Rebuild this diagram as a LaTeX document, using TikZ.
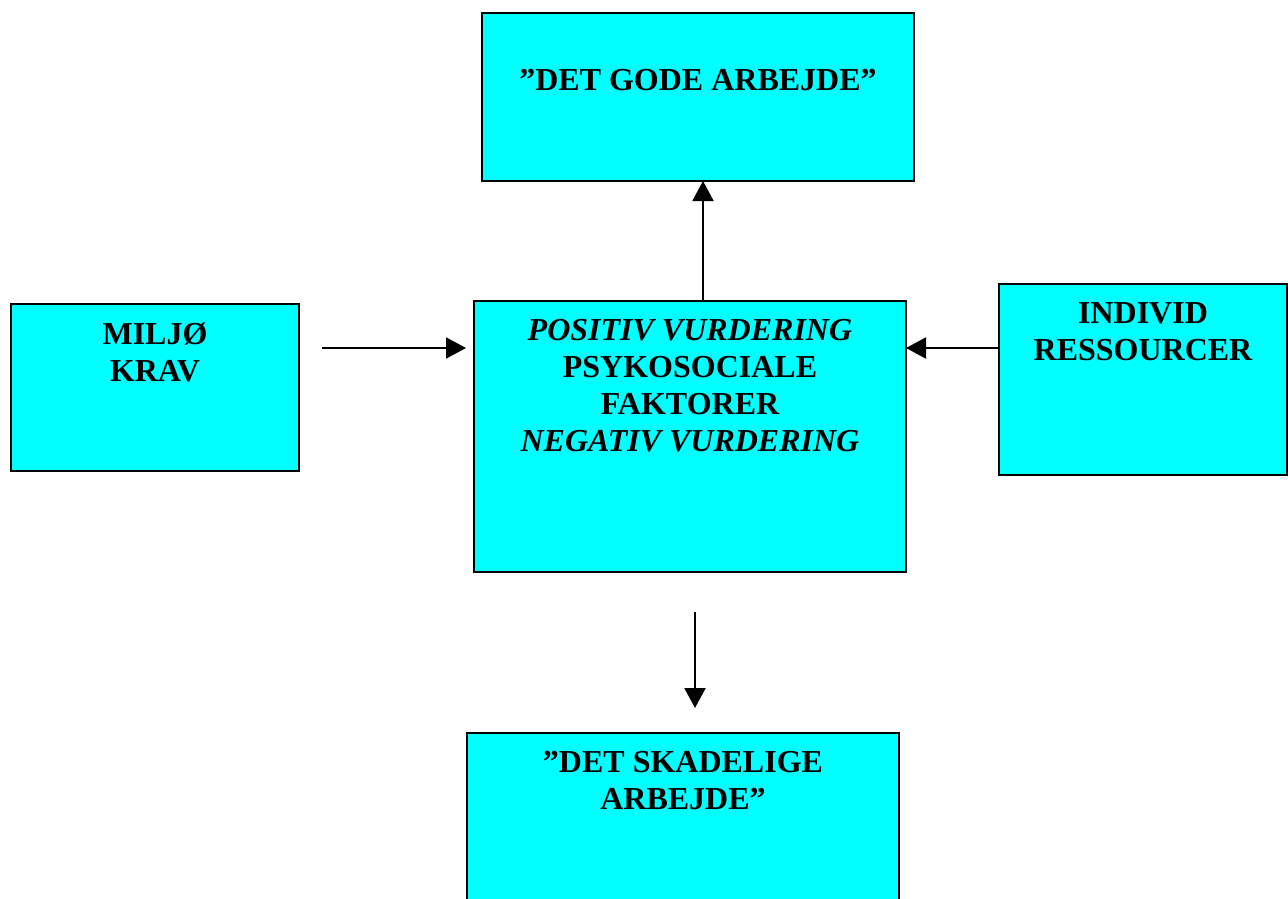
\documentclass[tikz,border=0pt]{standalone}
\usepackage{fontspec}
\setmainfont{Liberation Serif}
\usetikzlibrary{arrows.meta,calc}
\definecolor{boxcyan}{RGB}{0,255,255}
\begin{document}
\begin{tikzpicture}[x=1pt,y=-1pt,
  box/.style={draw=black,line width=2pt,fill=boxcyan,rectangle,inner sep=0pt,outer sep=0pt,anchor=north west},
  boxtext/.style={align=center,inner sep=0pt,font=\fontsize{32}{37}\selectfont\bfseries},
  link/.style={line width=2pt,-{Triangle[length=20pt,width=21pt]}}]
\useasboundingbox (0,0) rectangle (1288,898);
\clip (0,0) rectangle (1288,898);

% boxes
\node[box,minimum width=432pt,minimum height=168pt] (tbox) at (482,13) {};
\node[box,minimum width=288pt,minimum height=167pt] (lbox) at (11,304) {};
\node[box,minimum width=432pt,minimum height=271pt] (cbox) at (474,301) {};
\node[box,minimum width=288pt,minimum height=191pt] (rbox) at (999,284) {};
\node[box,minimum width=432pt,minimum height=220pt] (bbox) at (467,733) {};

% texts
\node[boxtext] (ttext) at (698,80) {”DET GODE ARBEJDE”};
\node[boxtext] (ltext) at (155,352) {MILJØ\\KRAV};
\node[boxtext] (ctext) at (690,385.5) {\itshape POSITIV VURDERING\\PSYKOSOCIALE\\FAKTORER\\\itshape NEGATIV VURDERING};
\node[boxtext] (rtext) at (1143,332) {INDIVID\\RESSOURCER};
\node[boxtext] (btext) at (683,781) {”DET SKADELIGE\\ARBEJDE”};

% connectors
\coordinate (lstart) at (322,348);
\coordinate (dstart) at (695,612);
\draw[link,shorten >=8pt] (lstart) -- (cbox.west |- lstart);
\draw[link] (rbox.west |- lstart) -- (cbox.east |- lstart);
\draw[link] ($(cbox.north west)+(229,0)$) -- ($(tbox.south west)+(221,0)$);
\draw[link,shorten >=25pt] (dstart) -- (bbox.north -| dstart);
\end{tikzpicture}
\end{document}
